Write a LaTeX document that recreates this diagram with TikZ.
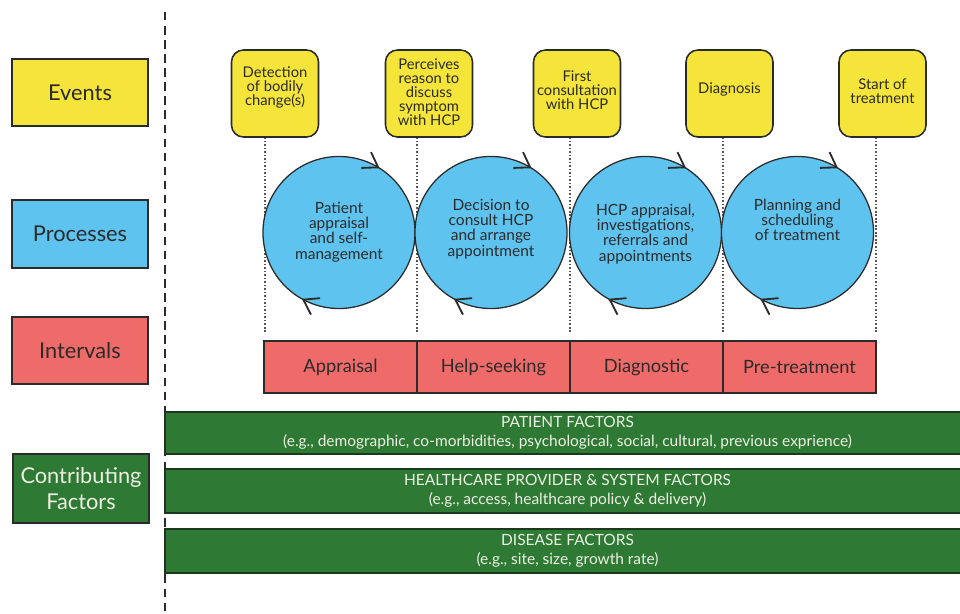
\documentclass[tikz,border=0pt]{standalone}
\usepackage{fontspec}
\setmainfont{Lato}
\definecolor{evy}{HTML}{F5E43A}
\definecolor{prb}{HTML}{5EC3EE}
\definecolor{inr}{HTML}{EF6B69}
\definecolor{cfg}{HTML}{2E7A34}
\definecolor{cfd}{HTML}{1B3A1D}
\definecolor{ink}{HTML}{2B2B2B}
\definecolor{lite}{HTML}{EEF0E4}
\begin{document}
\begin{tikzpicture}[x=0.025cm,y=-0.025cm,
  labelbox/.style={draw=ink, line width=1.5pt, minimum width=3.4cm, minimum height=1.68cm, inner sep=0pt, align=center, text=ink, font=\fontsize{15.5}{18}\selectfont},
  eventbox/.style={draw=ink, line width=1.1pt, fill=evy, rounded corners=0.3cm, minimum width=2.175cm, minimum height=2.175cm, inner sep=0pt},
  evtext/.style={align=center, text=ink, font=\fontsize{10.5}{10}\selectfont, inner sep=0pt},
  proc/.style={circle, draw=ink, line width=0.9pt, fill=prb, minimum size=3.8cm, inner sep=0pt},
  proctext/.style={align=center, text=ink, font=\fontsize{11}{10.8}\selectfont, inner sep=0pt},
  intv/.style={draw=ink, line width=0.9pt, fill=inr, minimum width=3.825cm, minimum height=1.3cm, inner sep=0pt, text=ink, font=\fontsize{13}{15}\selectfont},
  factor/.style={draw=cfd, line width=1.2pt, fill=cfg, minimum width=20.125cm, minimum height=1.1cm, inner sep=0pt, align=center, text=lite, font=\fontsize{11}{13.5}\selectfont},
  guide/.style={draw=ink!80, line width=0.8pt, dash pattern=on 1.2pt off 1.3pt},
  chevline/.style={draw=ink, line width=1.3pt, line join=miter}
]
\useasboundingbox (0,0) rectangle (960,613);

% left labels
\node[labelbox, fill=evy] (lev) at (80,92.5) {Events};
\node[labelbox, fill=prb] (lpr) at (80,234) {Processes};
\node[labelbox, fill=inr] (lin) at (80,350.5) {Intervals};
\node[labelbox, fill=cfg, text=lite, minimum height=1.72cm] (lcf) at (81,488.5) {Contributing\\Factors};

% dotted guides
\foreach \i/\x in {1/265,2/417,3/570,4/723,5/876}{
  \coordinate (g\i t) at (\x,137);
  \coordinate (g\i b) at (\x,332);
  \draw[guide] (g\i t) -- (g\i b);
}

% event boxes
\node[eventbox] (e1) at (275,93.5) {};
\node[eventbox] (e2) at (429,93.5) {};
\node[eventbox] (e3) at (577,93.5) {};
\node[eventbox] (e4) at (729.5,93.5) {};
\node[eventbox] (e5) at (882.5,93.5) {};
\node[evtext] (e1t) at (275,87) {Detection\\of bodily\\change(s)};
\node[evtext] (e2t) at (429,92) {Perceives\\reason to\\discuss\\symptom\\with HCP};
\node[evtext] (e3t) at (577,90) {First\\consultation\\with HCP};
\node[evtext] (e4t) at (729.5,89) {Diagnosis};
\node[evtext] (e5t) at (882.5,91) {Start of\\treatment};

% process circles
\node[proc] (p1) at (339,232.5) {};
\node[proc] (p2) at (491,232.5) {};
\node[proc] (p3) at (645.5,232.5) {};
\node[proc] (p4) at (797.5,232.5) {};
\node[proctext] (p1t) at (339,232) {Patient\\appraisal\\and self-\\management};
\node[proctext] (p2t) at (491,229) {Decision to\\consult HCP\\and arrange\\appointment};
\node[proctext] (p3t) at (645.5,234) {HCP appraisal,\\investigations,\\referrals and\\appointments};
\node[proctext] (p4t) at (797.5,220) {Planning and\\scheduling\\of treatment};

% chevrons (clockwise arrow heads on each circle)
\foreach \p in {p1,p2,p3,p4}{
  \draw[chevline] ([shift={(59:1.9cm)}]\p.center) ++(115:0.42cm) -- ([shift={(59:1.9cm)}]\p.center) -- ++(182:0.42cm);
  \draw[chevline] ([shift={(242:1.9cm)}]\p.center) ++(297:0.42cm) -- ([shift={(242:1.9cm)}]\p.center) -- ++(5:0.42cm);
}

% intervals
\node[intv] (i1) at (340.5,367) {Appraisal};
\node[intv] (i2) at (493.5,367) {Help-seeking};
\node[intv] (i3) at (646.5,367) {Diagnostic};
\node[intv] (i4) at (799.5,367) {Pre-treatment};

% contributing factors
\node[factor, minimum height=1.05cm] (f1) at (567.5,433) {PATIENT FACTORS\\(e.g., demographic, co-morbidities, psychological, social, cultural, previous exprience)};
\node[factor] (f2) at (567.5,491) {HEALTHCARE PROVIDER \& SYSTEM FACTORS\\(e.g., access, healthcare policy \& delivery)};
\node[factor] (f3) at (567.5,551) {DISEASE FACTORS\\(e.g., site, size, growth rate)};

% dashed divider
\coordinate (dtop) at (165,12);
\coordinate (dbot) at (165,613);
\draw[draw=ink, line width=2pt, dash pattern=on 6pt off 4pt] (dtop) -- (dbot);
\end{tikzpicture}
\end{document}
